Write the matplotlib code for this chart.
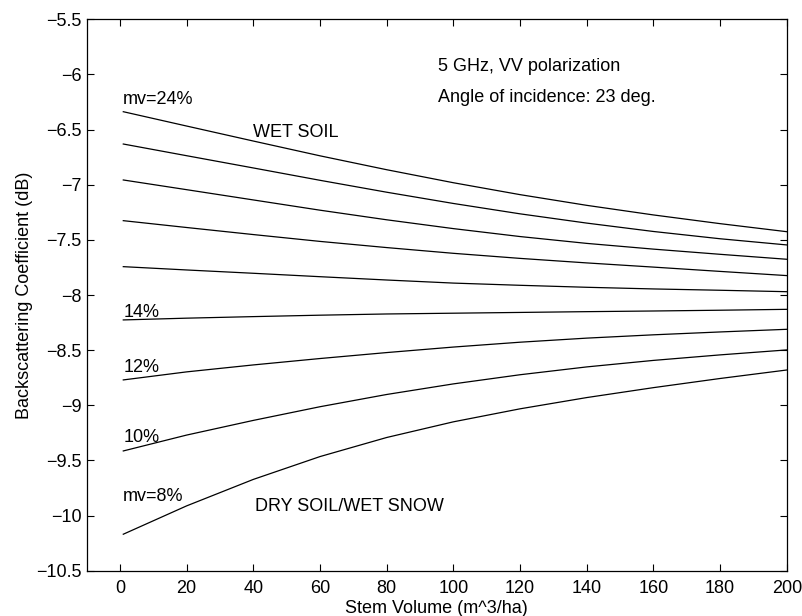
import matplotlib
matplotlib.use('Agg')
import matplotlib.pyplot as plt
from matplotlib.ticker import FuncFormatter

plt.rcParams['font.family'] = ['Liberation Sans', 'DejaVu Sans']

# stem volume (m^3/ha)
stem_vol = [1, 20, 40, 60, 80, 100, 120, 140, 160, 180, 200]

# backscatter (dB) for each soil moisture
mv24 = [-6.338, -6.468, -6.604, -6.738, -6.864, -6.982, -7.090, -7.187, -7.274, -7.353, -7.426]
mv22 = [-6.631, -6.737, -6.848, -6.960, -7.068, -7.170, -7.264, -7.348, -7.424, -7.490, -7.546]
mv20 = [-6.957, -7.045, -7.138, -7.231, -7.318, -7.398, -7.470, -7.532, -7.584, -7.631, -7.676]
mv18 = [-7.326, -7.388, -7.452, -7.514, -7.570, -7.622, -7.668, -7.709, -7.747, -7.786, -7.824]
mv16 = [-7.743, -7.773, -7.803, -7.834, -7.864, -7.892, -7.912, -7.930, -7.945, -7.957, -7.970]
mv14 = [-8.226, -8.210, -8.196, -8.183, -8.172, -8.165, -8.158, -8.151, -8.145, -8.138, -8.130]
mv12 = [-8.770, -8.697, -8.634, -8.576, -8.522, -8.472, -8.428, -8.391, -8.361, -8.335, -8.311]
mv10 = [-9.414, -9.270, -9.137, -9.013, -8.902, -8.806, -8.723, -8.652, -8.593, -8.543, -8.498]
mv8 = [-10.169, -9.912, -9.672, -9.465, -9.292, -9.150, -9.032, -8.930, -8.840, -8.757, -8.680]

curves = [mv24, mv22, mv20, mv18, mv16, mv14, mv12, mv10, mv8]

fig = plt.figure(figsize=(8.02, 6.16), dpi=100)
ax = fig.add_axes([0.108, 0.0735, 0.873, 0.8952])

for c in curves:
    ax.plot(stem_vol, c, color='black', lw=0.9)

ax.set_xlim(-10, 200)
ax.set_ylim(-10.5, -5.5)
ax.set_xticks(range(0, 201, 20))
ax.set_yticks([-10.5, -10, -9.5, -9, -8.5, -8, -7.5, -7, -6.5, -6, -5.5])
ax.yaxis.set_major_formatter(FuncFormatter(lambda v, p: f"{v:g}".replace('-', '\u2212')))
ax.tick_params(direction='in', top=True, right=True, length=5, width=0.8,
               labelsize=13)
ax.tick_params(axis='x', pad=7)
ax.tick_params(axis='y', pad=3.5)
for s in ax.spines.values():
    s.set_linewidth(0.9)

ax.set_xlabel('Stem Volume (m^3/ha)', fontsize=13, labelpad=1.5)
ax.set_ylabel('Backscattering Coefficient (dB)', fontsize=13, labelpad=2.5)

fs = 13
ax.text(95.4, -5.93, '5 GHz, VV polarization', fontsize=fs, va='center')
ax.text(95.4, -6.205, 'Angle of incidence: 23 deg.', fontsize=fs, va='center')
ax.text(40, -6.53, 'WET SOIL', fontsize=fs, va='center')
ax.text(40.5, -9.92, 'DRY SOIL/WET SNOW', fontsize=fs, va='center')
ax.text(1, -6.23, 'mv=24%', fontsize=fs, va='center')
ax.text(1, -8.16, '14%', fontsize=fs, va='center')
ax.text(1, -8.66, '12%', fontsize=fs, va='center')
ax.text(1, -9.29, '10%', fontsize=fs, va='center')
ax.text(1, -9.83, 'mv=8%', fontsize=fs, va='center')

fig.savefig('out.png', dpi=100)
